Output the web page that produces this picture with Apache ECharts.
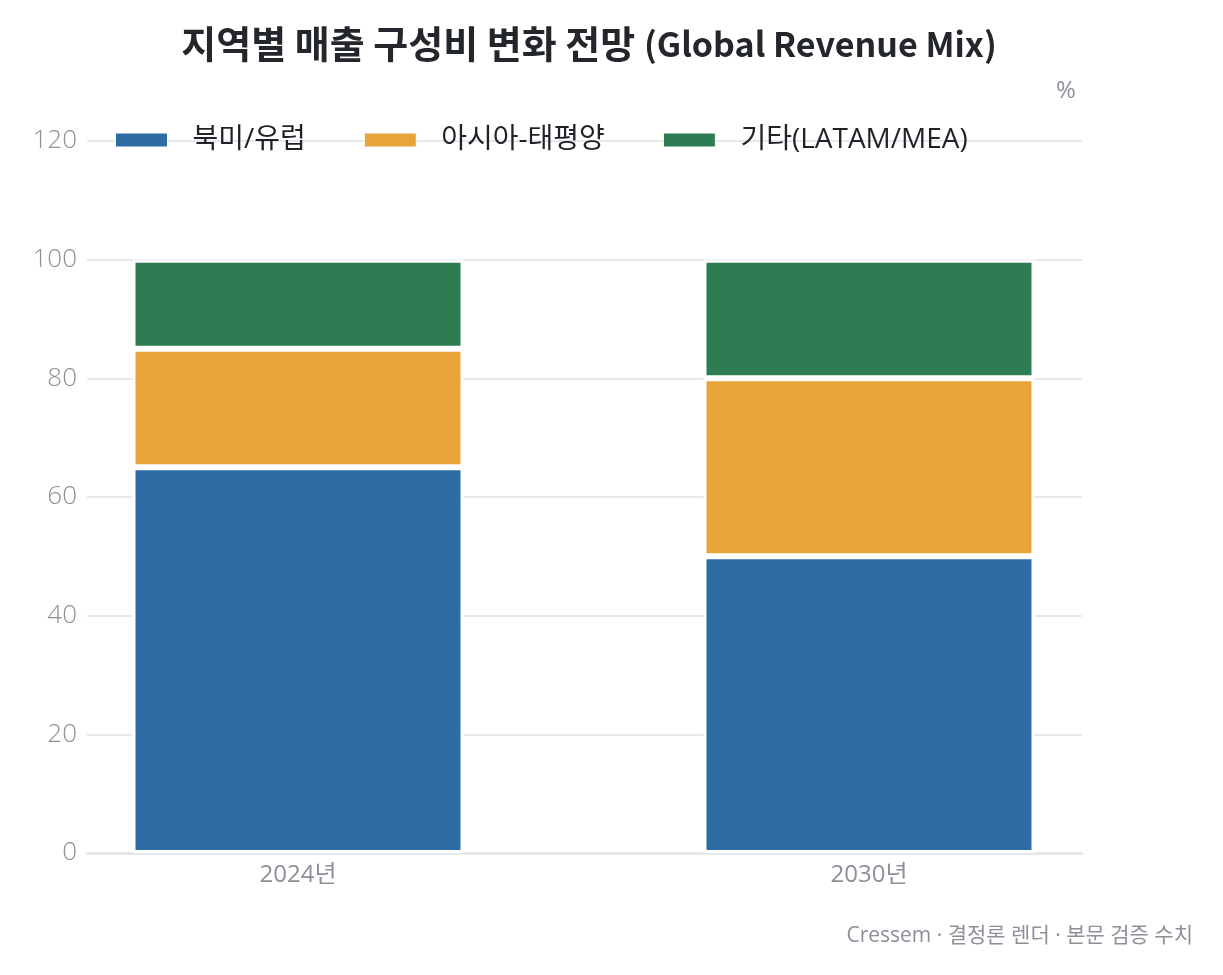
<!DOCTYPE html>
<html>
<head>
<meta charset="utf-8">
<script src="https://cdn.jsdelivr.net/npm/echarts@6/dist/echarts.min.js"></script>
<style>
  html, body { margin: 0; padding: 0; background: #fff; }
  #chart { width: 1223px; height: 975px; }
</style>
</head>
<body>
<div id="chart"></div>
<script>
// data
const categories = ['2024년', '2030년'];
const seriesNames = ['북미/유럽', '아시아-태평양', '기타(LATAM/MEA)'];
const northAmericaEurope = [65, 50];
const asiaPacific = [20, 30];
const others = [15, 20];
const yTicks = [0, 20, 40, 60, 80, 100, 120];

const colors = ['#2e6da4', '#e8a33b', '#2e7d52'];
const FONT = "'Open Sans', 'Noto Sans CJK KR', sans-serif";
const TITLE_FONT = "'Noto Sans CJK KR', sans-serif";
const GRID_LINE = '#e6e8ec';
const MUTED = '#8b9099';

const chart = echarts.init(document.getElementById('chart'));

const values = [northAmericaEurope, asiaPacific, others];

const option = {
    animation: false,
    color: colors,
    textStyle: { fontFamily: FONT },
    title: {
        text: '{k|지역별 매출 구성비 변화 전망 }{l|(Global Revenue Mix)}',
        left: 584,
        textAlign: 'center',
        top: 20,
        textStyle: {
            color: '#23262b',
            rich: {
                k: { fontSize: 38, fontWeight: 'bold', color: '#23262b', fontFamily: TITLE_FONT },
                l: { fontSize: 34, fontWeight: 'bold', color: '#23262b', fontFamily: TITLE_FONT }
            }
        }
    },
    legend: {
        data: seriesNames,
        left: 115,
        top: 126,
        padding: 0,
        icon: 'rect',
        itemWidth: 52,
        itemHeight: 14,
        itemGap: 58,
        itemStyle: { borderColor: '#fff', borderWidth: 1 },
        textStyle: { fontSize: 28, color: '#1f2328', fontFamily: FONT, padding: [0, 0, 0, 20] }
    },
    grid: [
        // gridlines + y labels
        { left: 87, right: 141, top: 141, bottom: 122 },
        // bars, wider so the two categories sit where the reference has them
        { left: 12.5, right: 68.5, top: 141, bottom: 122 }
    ],
    xAxis: [
        {
            gridIndex: 0, type: 'category', data: categories,
            axisLabel: { show: false }, axisTick: { show: false },
            axisLine: { show: true, lineStyle: { color: GRID_LINE, width: 3 } }
        },
        {
            gridIndex: 1, type: 'category', data: categories,
            axisTick: { show: false }, axisLine: { show: false },
            axisLabel: { fontSize: 24, color: MUTED, margin: 10, fontFamily: FONT }
        }
    ],
    yAxis: [
        {
            gridIndex: 0, type: 'value', min: yTicks[0], max: yTicks[yTicks.length - 1], interval: 20,
            axisLine: { show: false }, axisTick: { show: false },
            axisLabel: { fontSize: 26, color: MUTED, margin: 10, fontFamily: FONT, fontWeight: 300 },
            splitLine: { lineStyle: { color: GRID_LINE, width: 2 } }
        },
        {
            gridIndex: 1, type: 'value', min: yTicks[0], max: yTicks[yTicks.length - 1], interval: 20,
            show: false, splitLine: { show: false }
        }
    ],
    series: seriesNames.map((name, i) => ({
        name: name,
        type: 'bar',
        stack: 'mix',
        xAxisIndex: 1,
        yAxisIndex: 1,
        barWidth: 331,
        data: values[i],
        itemStyle: { color: colors[i], borderColor: '#fff', borderWidth: 3 }
    })),
    graphic: [
        {
            type: 'text', left: 1056, top: 79,
            style: { text: '%', fill: MUTED, font: '24px ' + FONT }
        },
        {
            type: 'text', right: 30, top: 926,
            style: { text: 'Cressem · 결정론 렌더 · 본문 검증 수치', fill: MUTED, font: '21px ' + FONT }
        }
    ]
};

chart.setOption(option);
</script>
</body>
</html>
